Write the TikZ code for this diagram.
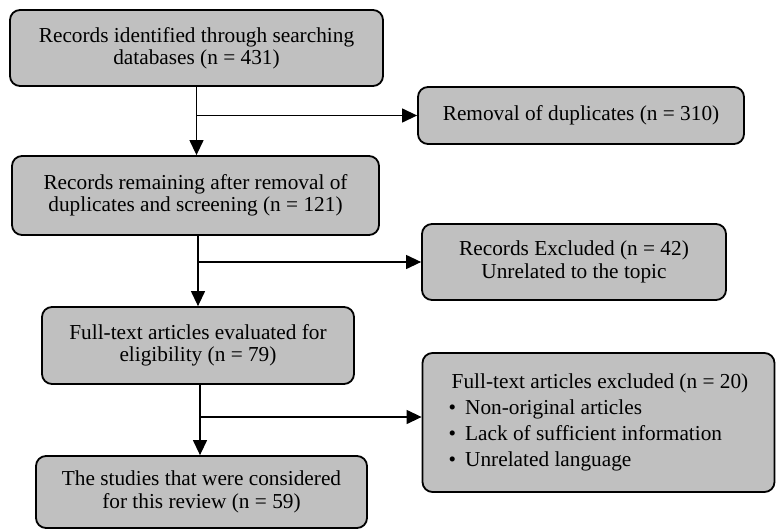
\documentclass[tikz,border=0pt]{standalone}
\usepackage{fontspec}
\setmainfont{Liberation Serif}
\usetikzlibrary{arrows.meta}
\definecolor{boxgray}{RGB}{192,192,192}

\begin{document}
\begin{tikzpicture}[x = 1pt, y = -1pt,
                       >= {Triangle[length = 15pt, width = 14pt]},
                       flowbox/.style = {draw, line width = 1.8pt, fill = boxgray,
                                         rounded corners = 10pt, align = center,
                                         inner sep = 0pt,
                                         font = \fontsize{21.3}{22.4}\selectfont},
                       listbox/.style = {flowbox, align = left,
                                         font = \fontsize{21.3}{26}\selectfont},
                       link/.style = {line width = 1.3pt}
                      ]
     \useasboundingbox (0,0) rectangle (776,530);

     \node[flowbox, minimum width = 373pt, minimum height = 76pt] (ident) at (196.5,48)
          {Records identified through searching\\databases (n = 431)};
     \node[flowbox, minimum width = 326pt, minimum height = 57pt] (dupl) at (581,115.5)
          {Removal of duplicates (n = 310)};
     \node[flowbox, minimum width = 367pt, minimum height = 79pt] (remain) at (195.5,195.5)
          {Records remaining after removal of\\duplicates and screening (n = 121)};
     \node[flowbox, minimum width = 304pt, minimum height = 76pt] (excl) at (574,262)
          {Records Excluded (n = 42)\\Unrelated to the topic};
     \node[flowbox, minimum width = 312pt, minimum height = 77pt] (full) at (198,345.5)
          {Full-text articles evaluated for\\eligibility (n = 79)};
     \node[listbox, minimum width = 352pt, minimum height = 139pt] (fullex) at (598.5,422.5)
          {\hspace{3pt}Full-text articles excluded (n = 20)\\
           \textbullet\hspace{9pt}Non-original articles\\
           \textbullet\hspace{9pt}Lack of sufficient information\\
           \textbullet\hspace{9pt}Unrelated language};
     \node[flowbox, minimum width = 331pt, minimum height = 72pt] (final) at (201.5,492)
          {The studies that were considered\\for this review (n = 59)};

     \draw[link, ->] (ident.south) -- (ident.south |- remain.north);
     \draw[link, ->] (ident.south |- dupl.west) -- (dupl.west);

     \draw[link, ->] (full.north |- remain.south) -- (full.north);
     \draw[link, ->] (full.north |- excl.west) -- (excl.west);

     \coordinate (fullexin) at ([yshift = 5.5pt]fullex.west);
     \draw[link, ->] ([xshift = 2pt]full.south) -- ([xshift = 2pt]full.south |- final.north);
     \draw[link, ->] ([xshift = 2pt]full.south |- fullexin) -- (fullexin);
   \end{tikzpicture}
\end{document}
